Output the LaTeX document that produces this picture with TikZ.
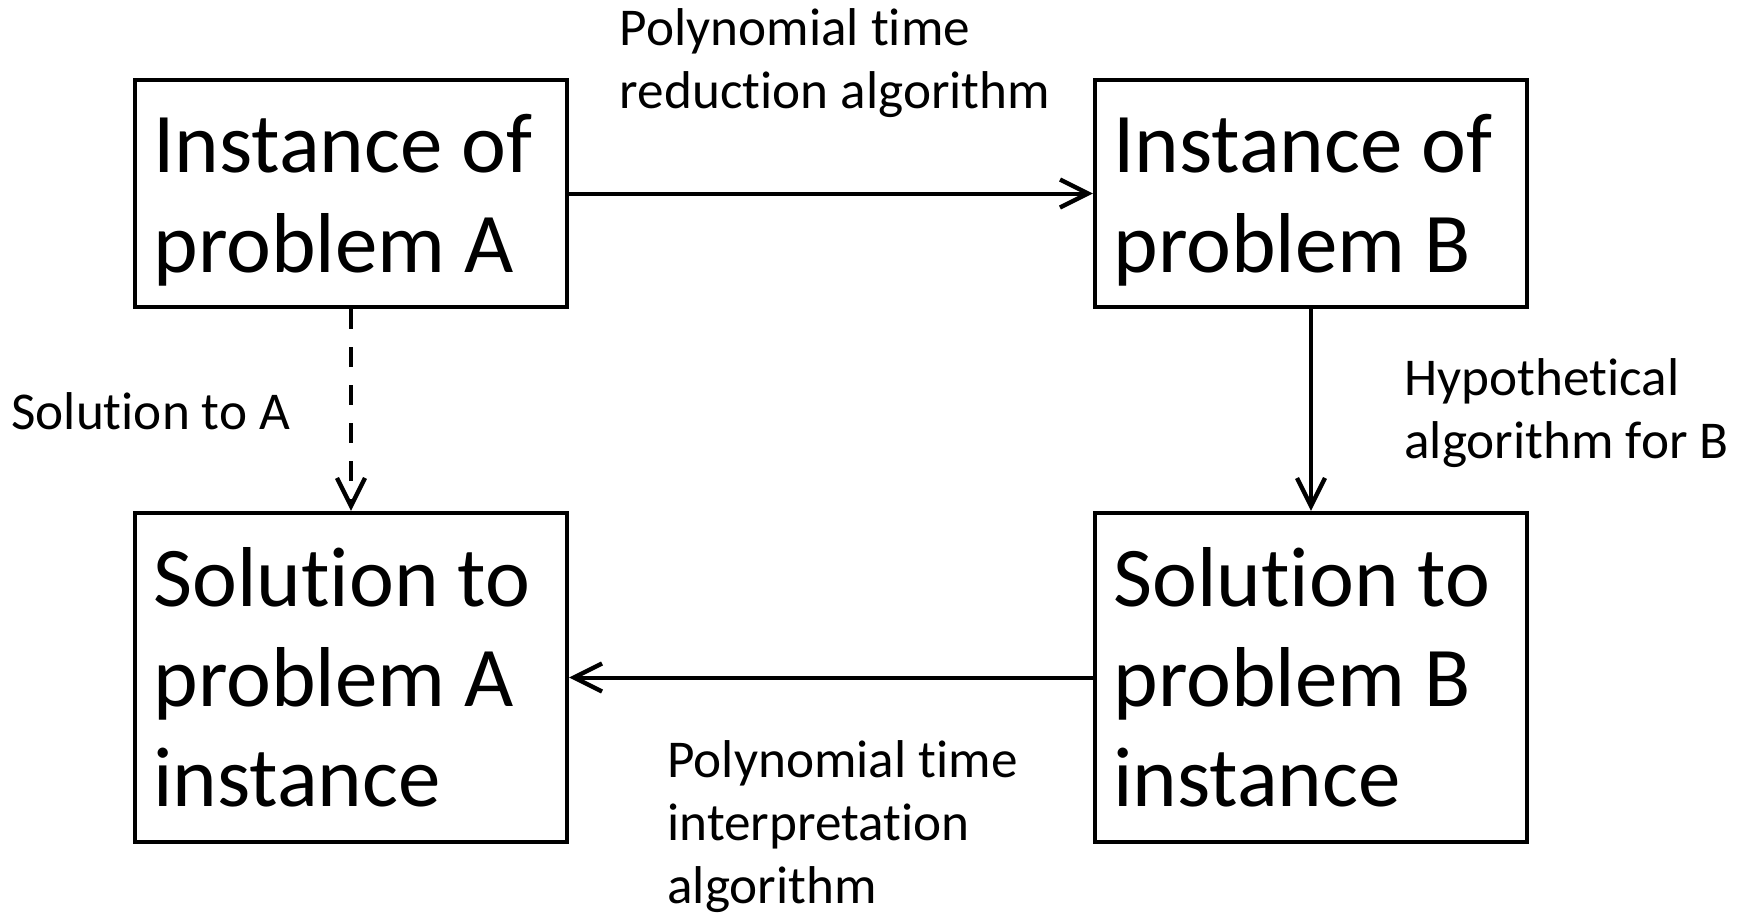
\documentclass[tikz,border=0pt]{standalone}
\usepackage{fontspec}
\setmainfont{Carlito}[Ligatures=NoCommon]
\usetikzlibrary{arrows.meta,positioning}
\tikzset{
  probbox/.style={draw, line width=2.1pt, minimum width=216pt, minimum height=113.5pt,
    text width=197.6pt, inner xsep=9.2pt, inner ysep=0pt, align=flush left,
    font=\fontsize{42.5}{50}\selectfont},
  tallbox/.style={probbox, minimum height=164.5pt},
  steplabel/.style={align=left, inner sep=0pt, anchor=base west,
    font=\fontsize{26.6}{31.5}\selectfont},
  conn/.style={line width=2pt, -{Straight Barb[length=14pt, width=14pt, line width=2.2pt]}},
}
\begin{document}
\begin{tikzpicture}[x=0.5pt, y=-0.5pt]
  \useasboundingbox (0,0) rectangle (1744,917);
  % the four boxes
  \node[probbox, text height=36pt] (instA) at (351,193.5) {Instance of\\problem A};
  \node[probbox, text height=36pt] (instB) at (1311,193.5) {Instance of\\problem B};
  \node[tallbox] (solA) at (351,677.5) {Solution to\\problem A\\instance};
  \node[tallbox] (solB) at (1311,677.5) {Solution to\\problem B\\instance};
  % connectors
  \draw[conn] (instA.east) -- (instB.west);
  \draw[conn] (instB.south) -- (solB.north);
  \draw[conn] (solB.west) -- (solA.east);
  \draw[conn, dash pattern=on 10pt off 9pt] (instA.south) -- (solA.north);
  % labels (placed at the baseline of their last line)
  \node[steplabel] (redlbl) at (619.5,108) {Polynomial time\\reduction algorithm};
  \node[steplabel] (hyplbl) at (1404,458) {Hypothetical\\algorithm for B};
  \node[steplabel] (intlbl) at (667,903) {Polynomial time\\interpretation\\algorithm};
  \node[steplabel] (sollbl) at (11,429) {Solution to A};
\end{tikzpicture}
\end{document}
